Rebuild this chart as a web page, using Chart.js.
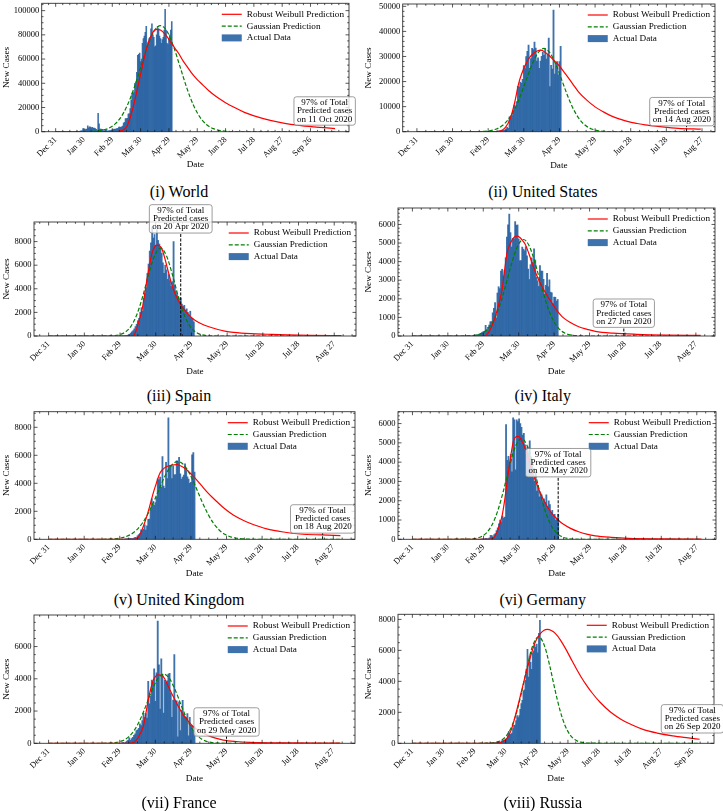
<!DOCTYPE html>
<html>
<head>
<meta charset="utf-8">
<script src="https://cdn.jsdelivr.net/npm/chart.js@4.4.1/dist/chart.umd.min.js"></script>
<style>
  html, body { margin: 0; padding: 0; background: #fff; }
  body { width: 723px; height: 811px; position: relative; overflow: hidden; }
  canvas { position: absolute; }
  .cap { position: absolute; width: 300px; text-align: center; font: 16px/16px 'Liberation Serif', 'Times New Roman', serif; color: #000; }
</style>
</head>
<body>
<script>
// x axis: days since 31 Dec 2019
const tickDays = [0, 30, 60, 90, 120, 150, 180, 210, 240, 270];
const tickLabels = ["Dec 31", "Jan 30", "Feb 29", "Mar 30", "Apr 29", "May 29", "Jun 28", "Jul 28", "Aug 27", "Sep 26"];
const legendLabels = ["Robust Weibull Prediction", "Gaussian Prediction", "Actual Data"];
const noteHead = ["97% of Total", "Predicted cases"];

// ---- World
const worldStart = 23;
const worldCases = [555, 98, 288, 493, 684, 809, 2651, 588, 2068, 1693,
  2111, 4749, 3094, 4011, 3743, 3159, 3597, 2729, 3030, 2612,
  2040, 419, 15152, 6517, 2145, 2194, 2034, 1880, 503, 558,
  622, 1752, 374, 622, 839, 950, 1351, 1389, 1890,
  2200, 1880, 2400, 2600, 2700, 3900, 3900, 3700, 4000, 4600, 7200,
  7800, 10900, 10800, 11000, 14500, 15000, 19000, 26000, 32000, 32000,
  33000, 40000, 41000, 49000, 63000, 64000, 65000, 58000, 60000, 73000,
  77000, 79000, 82000, 87000, 71000, 74000, 77000, 78000, 85000, 89000,
  80000, 78000, 70000, 71000, 80000, 87000, 85000, 79000, 77000, 73000,
  76000, 78000, 84000, 101000, 84000, 73000, 72000, 77000, 80000, 84000, 91000];
const worldWeibullDays = [0, 40, 55, 62, 68, 75, 82, 89, 96, 103, 107, 111, 117, 124, 130, 135, 140, 145, 150, 156, 162, 170, 180, 190, 200, 220, 240, 260, 280, 296];
const worldWeibull = [0, 0, 0, 50, 600, 3800, 20000, 44000, 68000, 82000, 84500, 84000, 79500, 71500, 65000, 58500, 53000, 47500, 43000, 38500, 34000, 29000, 24000, 19800, 16000, 10800, 7300, 5000, 3500, 2600];
const worldGaussDays = [0, 31, 41, 51, 56, 63, 69, 76, 83, 90, 97, 104, 111, 118, 125, 132, 139, 146, 153, 160, 167, 176, 186, 201, 296];
const worldGauss = [0, 60, 340, 1480, 2840, 6430, 11860, 21850, 36010, 53130, 70140, 82870, 87600, 82870, 70140, 53130, 36010, 21850, 11860, 5760, 2500, 730, 150, 0, 0];

// ---- United States
const usStart = 58;
const usCases = [1, 8, 6, 23, 20, 31, 68, 45, 140, 116,
  65, 376, 322, 382, 516, 548, 772, 1133, 1789, 1362,
  5894, 5423, 6389, 7787, 10571, 9893, 12038, 18058, 17821, 19821,
  19408, 20922, 26341, 25200, 30000, 32100, 34500, 25300, 29200, 33200,
  32700, 35700, 33300, 28200, 29500, 25300, 28200, 30100, 31700, 30500,
  33000, 29000, 31000, 37300, 18000, 26500, 25000, 48500, 23000, 27500,
  28000, 22700, 28000, 34000];
const usWeibullDays = [0, 62, 68, 72, 75, 78.6, 82, 85.7, 88, 91.2, 94, 97, 100, 104, 107, 111, 115, 119.4, 124, 128, 132, 136, 143, 150, 157, 164, 171, 178, 185, 192, 205, 220, 239];
const usWeibull = [0, 0, 60, 700, 2000, 5300, 11000, 19300, 22800, 26500, 29000, 30800, 31900, 32500, 32000, 30500, 28600, 26500, 23700, 21200, 18500, 15900, 12600, 9900, 7900, 6200, 5000, 4000, 3300, 2700, 2000, 1350, 1000];
const usGaussDays = [0, 37, 47, 57, 62, 67, 72, 77, 82, 87, 92, 97, 102, 107, 112, 117, 122, 127, 132, 137, 142, 147, 152, 157, 167, 177, 239];
const usGauss = [0, 1, 16, 163, 446, 1100, 2450, 4890, 8780, 14170, 20570, 26830, 31480, 33200, 31480, 26830, 20570, 14170, 8780, 4890, 2450, 1100, 446, 163, 16, 1, 0];

// ---- Spain
const spainStart = 60;
const spainCases = [0, 0, 10, 15, 30, 40, 60, 90, 150, 250,
  350, 450, 600, 800, 1000, 1300, 1500, 2000, 2400, 2100,
  3200, 3600, 4100, 5300, 6100, 7200, 7900, 9200, 8300, 8600,
  7700, 9000, 8100, 7800, 7500, 7000, 6200, 5300, 6000, 5600,
  4800, 5200, 4700, 4200, 4600, 8000, 4300, 3800, 3500, 3300,
  3000, 3200, 2700, 2500, 2600, 2200, 2300, 2000, 1800, 2100,
  1600, 1500, 1200];
const spainWeibullDays = [0, 64, 70, 72, 74, 76, 78.4, 80.5, 82.6, 84.7, 86.8, 89, 91, 93, 95.2, 97.3, 99.4, 102, 105, 108.5, 112, 115.5, 119, 123, 127.4, 134, 141.5, 148, 155.5, 170, 183.6, 200, 220, 246];
const spainWeibull = [0, 0, 0, 120, 600, 1300, 2200, 3400, 4750, 5950, 7000, 7550, 7700, 7650, 7400, 6700, 5900, 4900, 3900, 3100, 2500, 2050, 1640, 1330, 1080, 800, 570, 420, 310, 200, 150, 95, 55, 25];
const spainGaussDays = [0, 44, 54, 59, 64, 69, 74, 79, 84, 89, 94, 99, 104, 109, 114, 119, 124, 129, 134, 144, 246];
const spainGauss = [0, 1, 24, 94, 299, 798, 1783, 3331, 5206, 6805, 7440, 6805, 5206, 3331, 1783, 798, 299, 94, 24, 1, 0];

// ---- Italy
const italyStart = 53;
const italyCases = [17, 58, 78, 72, 94, 147, 185, 234, 239,
  573, 335, 466, 587, 769, 778, 1247, 1492, 1797, 977,
  2313, 2651, 2547, 3497, 3590, 3233, 3526, 4207, 5322, 5986,
  6557, 5560, 4789, 5249, 5210, 6153, 5959, 5974, 5217, 4050, 4053,
  4782, 4668, 4585, 4805, 4316, 3599, 3039, 3836, 4204, 3951,
  4694, 4092, 3153, 2972, 2667, 3786, 3493, 3491, 3047, 2256,
  2729, 3370, 2646, 3021, 2357, 2324, 1739, 2091, 2086, 1872, 1965];
const italyWeibullDays = [0, 58, 62, 65, 68, 70.2, 73, 75.9, 78, 80.1, 83, 86, 88.6, 91, 93, 95.6, 98.5, 101.3, 105, 109.7, 114, 118.2, 122, 126.7, 133, 140.8, 148, 154.9, 170, 190, 215, 244];
const italyWeibull = [0, 0, 20, 250, 650, 1040, 1700, 2490, 3500, 4470, 5000, 5300, 5370, 5300, 5150, 4920, 4450, 3930, 3300, 2660, 2180, 1770, 1400, 1040, 750, 500, 360, 250, 150, 90, 50, 30];
const italyGaussDays = [0, 39, 49, 54, 59, 64, 69, 74, 79, 84, 89, 94, 99, 104, 109, 114, 119, 124, 129, 134, 139, 149, 244];
const italyGauss = [0, 1, 16, 54, 157, 397, 870, 1655, 2729, 3900, 4832, 5190, 4832, 3900, 2729, 1655, 870, 397, 157, 54, 16, 1, 0];

// ---- United Kingdom
const ukStart = 62;
const ukCases = [13, 4, 11, 34, 30, 48, 43, 67, 48, 52,
  83, 134, 117, 250, 342, 407, 676, 643, 714, 1035,
  665, 967, 1427, 1452, 2129, 2885, 2546, 2433, 2619, 3009, 4324,
  4244, 4450, 3735, 5903, 3802, 3634, 5491, 4344, 8681, 5233,
  5288, 4342, 5252, 4603, 4617, 5599, 5525, 5850, 4676, 4301,
  4451, 4583, 5386, 4913, 4463, 4309, 3996, 4076, 6032, 6201, 4806];
const ukWeibullDays = [0, 70, 74.3, 77, 80, 82.7, 85.5, 88.2, 91, 93.9, 96.7, 99.6, 104, 108, 112, 116.4, 120.5, 124.8, 129, 133.3, 137.5, 141.7, 148.5, 155.7, 162.7, 169.8, 176.8, 183.9, 198, 211.9, 230, 246];
const ukWeibull = [0, 0, 40, 350, 950, 1620, 2450, 3300, 4050, 4730, 5030, 5200, 5310, 5330, 5220, 4970, 4630, 4250, 3830, 3410, 3040, 2700, 2180, 1740, 1420, 1150, 930, 740, 520, 380, 310, 260];
const ukGaussDays = [0, 39, 49, 59, 64, 69, 74, 79, 84, 89, 94, 99, 104, 109, 114, 119, 124, 129, 134, 139, 144, 149, 154, 159, 169, 179, 246];
const ukGauss = [0, 1, 10, 69, 159, 336, 648, 1147, 1857, 2756, 3747, 4665, 5321, 5560, 5321, 4665, 3747, 2756, 1857, 1147, 648, 336, 159, 69, 10, 1, 0];

// ---- Germany
const germanyStart = 56;
const germanyCases = [0, 2, 10, 20, 5, 30, 50, 30, 40, 70,
  200, 190, 130, 240, 300, 450, 600, 800, 1000, 900,
  1200, 1100, 1150, 5950, 4100, 4300, 4000, 4400, 3500, 6300,
  6200, 3600, 6200, 6100, 6250, 6000, 5800, 5400, 5500, 4900,
  4400, 4800, 4500, 5100, 4200, 3800, 3200, 3000, 3500, 2500,
  2800, 2200, 2400, 2300, 2000, 2100, 1900, 2300, 1700, 2000,
  1800, 1400, 1500, 1200, 1300, 1000, 1100, 1300];
const germanyWeibullDays = [0, 64, 68.5, 71, 73, 75.5, 78, 81.2, 83.3, 85.4, 87.5, 89.6, 92.4, 95.2, 98, 100.8, 105, 109.3, 113.5, 117.7, 122, 126.2, 133, 140.3, 147, 154.3, 168, 182.5, 210, 244];
const germanyWeibull = [0, 0, 60, 330, 650, 1170, 2100, 3580, 4450, 5140, 5320, 5340, 5100, 4700, 4150, 3580, 2850, 2200, 1720, 1340, 1050, 830, 580, 390, 270, 180, 100, 50, 25, 10];
const germanyGaussDays = [0, 47, 52, 57, 62, 67, 72, 77, 82, 87, 92, 97, 102, 107, 112, 117, 122, 127, 132, 137, 147, 244];
const germanyGauss = [0, 9, 34, 110, 305, 727, 1478, 2567, 3807, 4824, 5220, 4824, 3807, 2567, 1478, 727, 305, 110, 34, 9, 0, 0];

// ---- France
const franceStart = 62;
const franceCases = [43, 61, 21, 73, 138, 190, 336, 177, 286, 372,
  497, 595, 785, 838, 924, 1210, 1097, 1404, 1861, 1617,
  1847, 1559, 3838, 2446, 2931, 3922, 3809, 4611, 2599, 4376, 7578,
  4861, 2116, 5233, 4267, 1873, 3912, 3777, 3881, 4286, 4342,
  3114, 1613, 2673, 5497, 2633, 2641, 405, 2569, 785, 2051,
  2667, 1827, 1653, 1537, 1842, 464, 1604, 1110, 1065, 758, 1034];
const franceWeibullDays = [0, 67, 71.4, 74, 77, 79.8, 82, 84, 86.2, 88.3, 90.4, 92.5, 94.6, 96.7, 98.8, 100.9, 103.7, 106.6, 110, 113.5, 117.7, 122, 127.6, 133.3, 140, 147.3, 158, 169.8, 200, 246];
const franceWeibull = [0, 0, 40, 200, 560, 1030, 1850, 2690, 3400, 3930, 4170, 4240, 4220, 4140, 3870, 3520, 3100, 2690, 2200, 1760, 1370, 1030, 750, 520, 340, 200, 110, 60, 25, 10];
const franceGaussDays = [0, 42, 52, 57, 62, 67, 72, 77, 82, 87, 92, 97, 102, 107, 112, 117, 122, 127, 132, 137, 142, 152, 246];
const franceGauss = [0, 1, 17, 54, 151, 367, 778, 1438, 2320, 3265, 4007, 4290, 4007, 3265, 2320, 1438, 778, 367, 151, 54, 17, 1, 0];

// ---- Russia
const russiaStart = 71;
const russiaCases = [3, 8, 6, 6, 14, 4, 30, 21, 33, 52,
  54, 53, 61, 71, 57, 163, 182, 196, 228, 270,
  302, 501, 771, 601, 582, 658, 954, 1154, 1175, 1459,
  1786, 1667, 1786, 2186, 2558, 2774, 3388, 3448, 4070, 4785,
  6060, 4268, 5642, 5236, 4774, 5849, 5966, 6361, 6198, 6411,
  5841, 7099, 7933];
const russiaWeibullDays = [0, 76, 83, 87, 91, 95, 99, 103, 107, 111, 115, 119, 123, 127, 130, 134, 138, 143, 148, 153, 158, 163, 168, 173, 181, 191, 201, 211, 223, 236, 251, 266, 277];
const russiaWeibull = [0, 0, 20, 100, 300, 800, 1700, 2750, 3850, 4900, 5850, 6600, 7050, 7300, 7350, 7280, 7080, 6650, 6080, 5450, 4830, 4250, 3740, 3280, 2650, 2020, 1560, 1210, 880, 660, 480, 350, 260];
const russiaGaussDays = [0, 71, 81, 86, 91, 96, 101, 106, 111, 116, 121.7, 127.4, 132.4, 137.4, 142.4, 147.4, 152.4, 157.4, 162.4, 172.4, 277];
const russiaGauss = [0, 6, 73, 208, 517, 1120, 2120, 3495, 5022, 6293, 6880, 6293, 5022, 3495, 2120, 1120, 517, 208, 73, 6, 0];

// ---------------------------------------------------------------
const SERIF = "'Liberation Serif', 'Times New Roman', serif";
const BAR = "rgba(35, 95, 160, 0.88)";
Chart.defaults.font.family = SERIF;
Chart.defaults.color = "#000";

const colX = [0, 362], colW = [362, 361];
const rowY = [-10, 198, 402, 606], rowH = [190, 187, 188, 189];
const capY = [192, 396, 600, 803], capX = [179, 542.8];

const panels = [
  { caption: "(i) World", col: 0, row: 0, start: worldStart, cases: worldCases,
    wDays: worldWeibullDays, wVals: worldWeibull, gDays: worldGaussDays, gVals: worldGauss,
    span: 296, yStep: 20000, yMinor: 5000, date: "on 11 Oct 2020", noteDay: 285, noteAt: [285, 17100],
    area: [41.7, 3.3, 349, 131.7], dateY: 165 },
  { caption: "(ii) United States", col: 1, row: 0, start: usStart, cases: usCases,
    wDays: usWeibullDays, wVals: usWeibull, gDays: usGaussDays, gVals: usGauss,
    span: 239, yStep: 10000, yMinor: 2000, date: "on 14 Aug 2020", noteDay: 227, noteAt: [223, 8000],
    area: [402.7, 4, 715, 131.7], dateY: 165.7 },
  { caption: "(iii) Spain", col: 0, row: 1, start: spainStart, cases: spainCases,
    wDays: spainWeibullDays, wVals: spainWeibull, gDays: spainGaussDays, gVals: spainGauss,
    span: 246, yStep: 2000, yMinor: 500, date: "on 20 Apr 2020", noteDay: 111, noteAt: [111, 9926],
    area: [34, 222, 356, 336], dateY: 371.5 },
  { caption: "(iv) Italy", col: 1, row: 1, start: italyStart, cases: italyCases,
    wDays: italyWeibullDays, wVals: italyWeibull, gDays: italyGaussDays, gVals: italyGauss,
    span: 244, yStep: 1000, yMinor: 200, date: "on 27 Jun 2020", noteDay: 179, noteAt: [179, 1227],
    area: [398, 208, 715, 336], dateY: 371.5 },
  { caption: "(v) United Kingdom", col: 0, row: 2, start: ukStart, cases: ukCases,
    wDays: ukWeibullDays, wVals: ukWeibull, gDays: ukGaussDays, gVals: ukGauss,
    span: 246, yStep: 2000, yMinor: 500, date: "on 18 Aug 2020", noteDay: 231, noteAt: [231, 1455],
    area: [34, 411.7, 355, 539.3], dateY: 573.3 },
  { caption: "(vi) Germany", col: 1, row: 2, start: germanyStart, cases: germanyCases,
    wDays: germanyWeibullDays, wVals: germanyWeibull, gDays: germanyGaussDays, gVals: germanyGauss,
    span: 244, yStep: 1000, yMinor: 200, date: "on 02 May 2020", noteDay: 123, noteAt: [123, 3972],
    area: [398, 411.7, 716, 539.3], dateY: 574 },
  { caption: "(vii) France", col: 0, row: 3, start: franceStart, cases: franceCases,
    wDays: franceWeibullDays, wVals: franceWeibull, gDays: franceGaussDays, gVals: franceGauss,
    span: 246, yStep: 2000, yMinor: 500, date: "on 29 May 2020", noteDay: 150, noteAt: [150, 1323],
    area: [34, 615, 355, 743.3], dateY: 778.3 },
  { caption: "(viii) Russia", col: 1, row: 3, start: russiaStart, cases: russiaCases,
    wDays: russiaWeibullDays, wVals: russiaWeibull, gDays: russiaGaussDays, gVals: russiaGauss,
    span: 277, yStep: 2000, yMinor: 500, date: "on 26 Sep 2020", noteDay: 270, noteAt: [270, 1581],
    area: [398, 614.3, 714, 743.3], dateY: 778.3 },
];

const NOTE_LH = 8.2, NOTE_PX = 3, NOTE_PY = 1.9;

function line(ctx, x1, y1, x2, y2) {
  ctx.beginPath(); ctx.moveTo(x1, y1); ctx.lineTo(x2, y2); ctx.stroke();
}

function decor(p, lo, hi, yMax) {
  const noteLines = [...noteHead, p.date];
  const noteH = noteLines.length * NOTE_LH + 2 * NOTE_PY;
  return {
    id: "decor",
    afterDatasetsDraw(chart) {
      const { ctx, scales: { x, y } } = chart;
      const lx = x.getPixelForValue(p.noteDay);
      const bottom = y.getPixelForValue(p.noteAt[1]) + noteH / 2;
      const y0 = y.getPixelForValue(0);
      if (bottom < y0) {
        ctx.save();
        ctx.strokeStyle = "#000"; ctx.lineWidth = 1; ctx.setLineDash([3, 1.5]);
        line(ctx, lx, y0, lx, bottom);
        ctx.restore();
      }
    },
    afterDraw(chart) {
      const { ctx, chartArea: a, scales: { x, y } } = chart;
      ctx.save();
      // frame
      ctx.strokeStyle = "#333"; ctx.lineWidth = 0.9;
      ctx.strokeRect(a.left, a.top, a.right - a.left, a.bottom - a.top);
      // inward ticks on all four sides
      ctx.strokeStyle = "#111"; ctx.lineWidth = 0.7;
      for (let d = Math.ceil(lo / 7.5) * 7.5; d <= hi; d += 7.5) {
        const px = x.getPixelForValue(d);
        const len = (d % 30 === 0 && d >= 0 && d <= 270) ? 3.5 : 1.8;
        line(ctx, px, a.bottom, px, a.bottom - len);
        line(ctx, px, a.top, px, a.top + len);
      }
      for (let v = 0; v <= yMax; v += p.yMinor) {
        const py = y.getPixelForValue(v);
        const len = (v % p.yStep === 0) ? 3.5 : 1.8;
        line(ctx, a.left, py, a.left + len, py);
        line(ctx, a.right, py, a.right - len, py);
      }
      // legend
      ctx.font = "9.2px " + SERIF;
      ctx.textBaseline = "middle"; ctx.textAlign = "left"; ctx.fillStyle = "#000";
      const tw = Math.max(...legendLabels.map(t => ctx.measureText(t).width));
      const tx = a.right - 5 - tw;
      legendLabels.forEach((t, i) => {
        const ry = a.top + 11 + i * 11.8;
        if (i === 0) { ctx.strokeStyle = "#ff0000"; ctx.lineWidth = 1.2; ctx.setLineDash([]); line(ctx, tx - 25, ry, tx - 5, ry); }
        if (i === 1) { ctx.strokeStyle = "#008000"; ctx.lineWidth = 1.2; ctx.setLineDash([4, 2]); line(ctx, tx - 25, ry, tx - 5, ry); ctx.setLineDash([]); }
        if (i === 2) { ctx.fillStyle = BAR; ctx.fillRect(tx - 25, ry - 3.5, 20, 7); ctx.fillStyle = "#000"; }
        ctx.fillText(t, tx, ry);
      });
      // 97% note box
      ctx.font = "9px " + SERIF;
      const nw = Math.max(...noteLines.map(t => ctx.measureText(t).width)) + 2 * NOTE_PX;
      const cx = x.getPixelForValue(p.noteAt[0]);
      const cy = y.getPixelForValue(p.noteAt[1]);
      const bx = cx - nw / 2, by = cy - noteH / 2, r = 2.5;
      ctx.beginPath();
      ctx.moveTo(bx + r, by);
      ctx.arcTo(bx + nw, by, bx + nw, by + noteH, r);
      ctx.arcTo(bx + nw, by + noteH, bx, by + noteH, r);
      ctx.arcTo(bx, by + noteH, bx, by, r);
      ctx.arcTo(bx, by, bx + nw, by, r);
      ctx.closePath();
      ctx.fillStyle = "rgba(255,255,255,0.8)"; ctx.fill();
      ctx.strokeStyle = "rgba(120,120,120,0.9)"; ctx.lineWidth = 0.8; ctx.stroke();
      ctx.fillStyle = "#000"; ctx.textAlign = "center";
      noteLines.forEach((t, i) => ctx.fillText(t, cx, cy + (i - 1) * NOTE_LH));
      ctx.restore();
    }
  };
}

const titleFont = { size: 9.2, lineHeight: 1.2 };
const half = 9.2 * 1.2 / 2;

panels.forEach(p => {
  const cx = colX[p.col], cw = colW[p.col], cy = rowY[p.row], ch = rowH[p.row];
  const [L, T, R, B] = p.area;
  const lo = -0.05 * p.span, hi = 1.05 * p.span;
  const yMax = 1.05 * Math.max(...p.cases, ...p.wVals, ...p.gVals);

  const cv = document.createElement("canvas");
  cv.width = cw; cv.height = ch;
  cv.style.left = cx + "px"; cv.style.top = cy + "px";
  document.body.appendChild(cv);

  new Chart(cv, {
    type: "bar",
    data: {
      datasets: [
        { type: "line", label: legendLabels[0], data: p.wDays.map((d, i) => ({ x: d, y: p.wVals[i] })),
          borderColor: "#ff0000", borderWidth: 1.2, pointRadius: 0, cubicInterpolationMode: "monotone", order: 1 },
        { type: "line", label: legendLabels[1], data: p.gDays.map((d, i) => ({ x: d, y: p.gVals[i] })),
          borderColor: "#008000", borderWidth: 1.2, borderDash: [4, 2], pointRadius: 0, cubicInterpolationMode: "monotone", order: 2 },
        { type: "bar", label: legendLabels[2], data: p.cases.map((v, i) => ({ x: p.start + i, y: v })),
          backgroundColor: BAR, borderWidth: 0, barPercentage: 1, categoryPercentage: 1, order: 3 },
      ],
    },
    options: {
      responsive: false,
      animation: false,
      devicePixelRatio: 1,
      layout: { padding: { left: 0, top: T - cy, right: cx + cw - R, bottom: cy + ch - (p.dateY + half) } },
      plugins: { legend: { display: false }, tooltip: { enabled: false } },
      scales: {
        x: {
          type: "linear", min: lo, max: hi, offset: false,
          grid: { display: false, drawTicks: false }, border: { display: false },
          ticks: { autoSkip: false, minRotation: 45, maxRotation: 45, padding: 3, font: { size: 8.5 },
            callback: v => { const i = tickDays.indexOf(v); return i < 0 ? "" : tickLabels[i]; } },
          afterBuildTicks: s => { s.ticks = tickDays.filter(d => d >= lo && d <= hi).map(d => ({ value: d })); },
          afterFit: s => { s.height = p.dateY + half - B; },
          title: { display: true, text: "Date", font: titleFont, padding: { top: 0, bottom: 0 } },
        },
        y: {
          min: 0, max: yMax,
          grid: { display: false, drawTicks: false }, border: { display: false },
          ticks: { padding: 2.5, font: { size: 8.5 }, callback: v => String(v) },
          afterBuildTicks: s => { const t = []; for (let v = 0; v <= yMax; v += p.yStep) t.push({ value: v }); s.ticks = t; },
          afterFit: s => { s.width = L - cx; },
          title: { display: true, text: "New Cases", font: titleFont, padding: { top: 1.5, bottom: 0 } },
        },
      },
    },
    plugins: [decor(p, lo, hi, yMax)],
  });

  const cap = document.createElement("div");
  cap.className = "cap";
  cap.textContent = p.caption;
  cap.style.left = (capX[p.col] - 150) + "px";
  cap.style.top = (capY[p.row] - 8) + "px";
  document.body.appendChild(cap);
});
</script>
</body>
</html>
